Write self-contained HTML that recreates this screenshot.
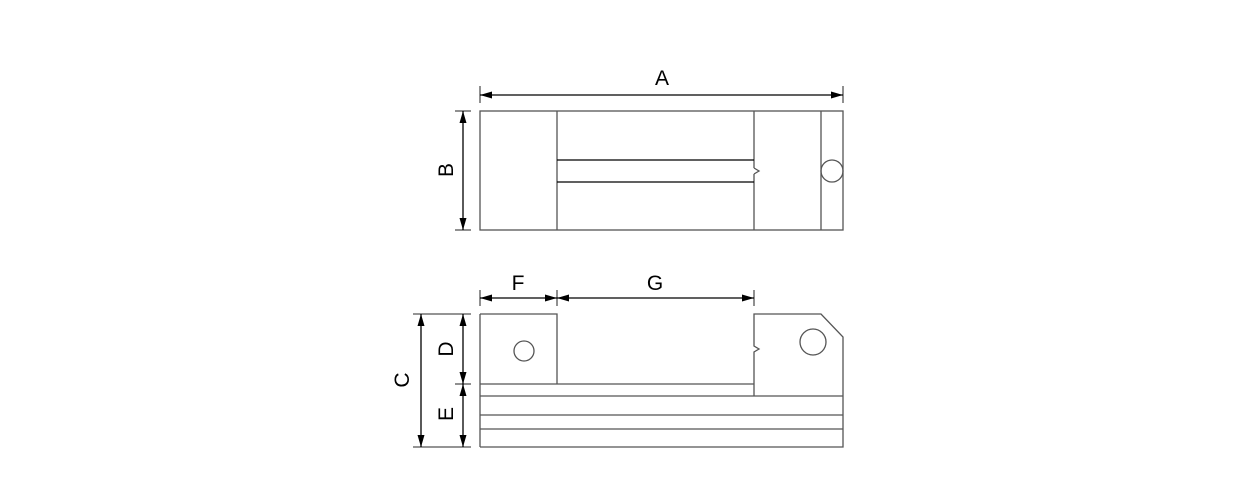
<!DOCTYPE html>
<html><head><meta charset="utf-8"><style>
html,body{margin:0;padding:0;background:#fff;}
svg{display:block;}
text{font-family:"Liberation Sans",sans-serif;font-size:21px;fill:#000;}
</style></head><body>
<svg width="1240" height="483" viewBox="0 0 1240 483" xmlns="http://www.w3.org/2000/svg">
<defs>
<marker id="ar" markerWidth="12" markerHeight="7" refX="12" refY="3.5" orient="auto-start-reverse" markerUnits="userSpaceOnUse">
<path d="M0,0 L12,3.5 L0,7 Z" fill="#000"/>
</marker>
</defs>
<g fill="none" stroke="#555" stroke-width="1.3">
<!-- top view -->
<rect x="480" y="111" width="363" height="119"/>
<line x1="557" y1="111" x2="557" y2="230"/>
<line x1="754" y1="111" x2="754" y2="168"/>
<polyline points="754,168 759,171 754,174"/>
<line x1="754" y1="174" x2="754" y2="230"/>
<line x1="821" y1="111" x2="821" y2="230"/>
<circle cx="832" cy="171" r="11"/>
<line x1="557" y1="160" x2="754" y2="160" stroke="#000"/>
<line x1="557" y1="182" x2="754" y2="182" stroke="#000"/>
<!-- extension lines A/B -->
<line x1="480" y1="86" x2="480" y2="103"/>
<line x1="843" y1="86" x2="843" y2="103"/>
<line x1="455" y1="111" x2="471" y2="111"/>
<line x1="455" y1="230" x2="471" y2="230"/>
<!-- bottom view -->
<polyline points="480,314 557,314 557,384"/>
<line x1="480" y1="314" x2="480" y2="447"/>
<polyline points="754,396 754,352 759,349 754,346 754,314 821,314 843,337 843,447 480,447"/>
<line x1="480" y1="384" x2="754" y2="384"/>
<line x1="480" y1="396" x2="843" y2="396"/>
<line x1="480" y1="415" x2="843" y2="415"/>
<line x1="480" y1="429" x2="843" y2="429"/>
<circle cx="524" cy="351" r="10"/>
<circle cx="813" cy="342" r="13"/>
<!-- extension lines F/G -->
<line x1="480" y1="290" x2="480" y2="306"/>
<line x1="557" y1="290" x2="557" y2="306"/>
<line x1="754" y1="290" x2="754" y2="306"/>
<!-- extension lines C/D/E -->
<line x1="413" y1="314" x2="471" y2="314"/>
<line x1="413" y1="447" x2="471" y2="447"/>
<line x1="455" y1="384" x2="471" y2="384"/>
</g>
<g stroke="#000" stroke-width="1.3" fill="none">
<line x1="480" y1="95" x2="843" y2="95" marker-start="url(#ar)" marker-end="url(#ar)"/>
<line x1="463" y1="111" x2="463" y2="230" marker-start="url(#ar)" marker-end="url(#ar)"/>
<line x1="480" y1="298" x2="557" y2="298" marker-start="url(#ar)" marker-end="url(#ar)"/>
<line x1="557" y1="298" x2="754" y2="298" marker-start="url(#ar)" marker-end="url(#ar)"/>
<line x1="421" y1="314" x2="421" y2="447" marker-start="url(#ar)" marker-end="url(#ar)"/>
<line x1="463" y1="314" x2="463" y2="384" marker-start="url(#ar)" marker-end="url(#ar)"/>
<line x1="463" y1="384" x2="463" y2="447" marker-start="url(#ar)" marker-end="url(#ar)"/>
</g>
<text x="662" y="85" text-anchor="middle">A</text>
<text x="518" y="290" text-anchor="middle">F</text>
<text x="655" y="290" text-anchor="middle">G</text>
<text transform="translate(453,170) rotate(-90)" text-anchor="middle">B</text>
<text transform="translate(409,380) rotate(-90)" text-anchor="middle">C</text>
<text transform="translate(453,349) rotate(-90)" text-anchor="middle">D</text>
<text transform="translate(453,414) rotate(-90)" text-anchor="middle">E</text>
</svg>
</body></html>
